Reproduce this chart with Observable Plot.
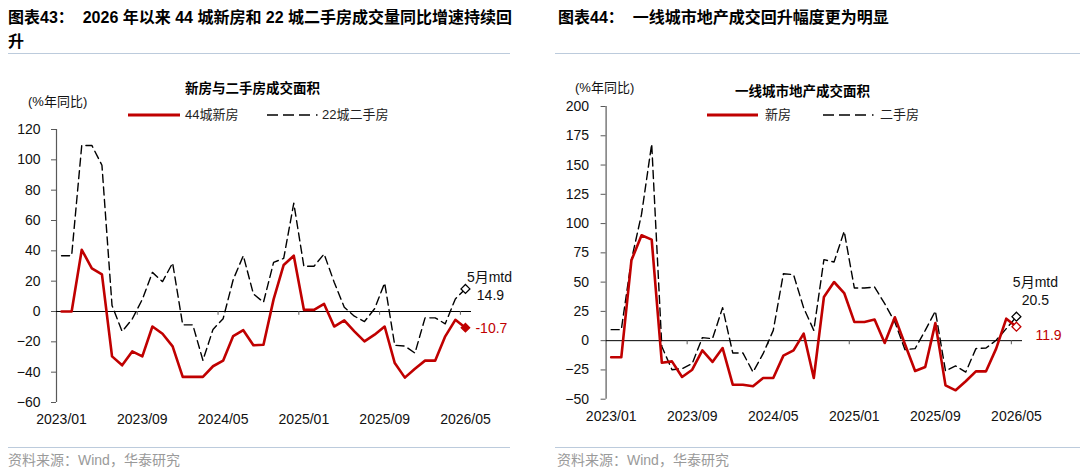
<!DOCTYPE html>
<html>
<head>
<meta charset="utf-8">
<script src="https://cdn.jsdelivr.net/npm/d3@7"></script>
<script src="https://cdn.jsdelivr.net/npm/@observablehq/plot@0.6"></script>
<style>
  body { margin: 0; background: #fff; }
  #page { position: relative; width: 1080px; height: 472px; overflow: hidden;
          font-family: "Liberation Sans", "Noto Sans CJK SC", sans-serif; color: #000; }
  .abs { position: absolute; white-space: nowrap; }
  .title { font-weight: 700; font-size: 16px; line-height: 24px; }
  .rule { position: absolute; height: 0; border-top: 1.5px solid #bccbdc; }
  .sub { font-weight: 700; font-size: 13.5px; line-height: 18px; }
  .unit { font-size: 13px; line-height: 16px; color: #111; }
  .leg { font-size: 13px; line-height: 16px; color: #222; }
  .source { font-size: 14px; line-height: 18px; color: #9a9a9a; }
  svg.sw { position: absolute; overflow: visible; }
  .chart { position: absolute; }
</style>
</head>
<body>
<div id="page">
  <!-- left panel header -->
  <div class="abs title" style="left:8px;top:6px;">图表43：&nbsp; 2026 年以来 44 城新房和 22 城二手房成交量同比增速持续回<br>升</div>
  <div class="rule" style="left:8px;top:53px;width:502px;"></div>
  <div class="rule" style="left:8px;top:447px;width:502px;"></div>
  <div class="abs source" style="left:8px;top:451px;">资料来源：Wind，华泰研究</div>

  <!-- right panel header -->
  <div class="abs title" style="left:558px;top:6px;">图表44：&nbsp; 一线城市地产成交回升幅度更为明显</div>
  <div class="rule" style="left:555px;top:53px;width:525px;"></div>
  <div class="rule" style="left:555px;top:447px;width:525px;"></div>
  <div class="abs source" style="left:557px;top:451px;">资料来源：Wind，华泰研究</div>

  <div id="left" class="chart" style="left:0;top:100px;"></div>
  <div id="right" class="chart" style="left:540px;top:90px;"></div>

  <!-- chart captions and legends -->
  <div class="abs sub" style="left:185px;top:80px;">新房与二手房成交面积</div>
  <div class="abs unit" style="left:28px;top:94px;">(%年同比)</div>
  <svg class="sw" style="left:128px;top:110px;" width="52" height="10"><line x1="0" y1="5" x2="52" y2="5" stroke="#C00000" stroke-width="3"/></svg>
  <div class="abs leg" style="left:185px;top:107px;">44城新房</div>
  <svg class="sw" style="left:267px;top:110px;" width="52" height="10"><line x1="0" y1="5" x2="51" y2="5" stroke="#000" stroke-width="1.5" stroke-dasharray="11,5,11,5,11,6,1.5,20"/></svg>
  <div class="abs leg" style="left:322px;top:107px;">22城二手房</div>

  <div class="abs sub" style="left:735px;top:83px;">一线城市地产成交面积</div>
  <div class="abs unit" style="left:575px;top:80px;">(%年同比)</div>
  <svg class="sw" style="left:707px;top:110px;" width="52" height="10"><line x1="0" y1="5" x2="51" y2="5" stroke="#C00000" stroke-width="3"/></svg>
  <div class="abs leg" style="left:765px;top:107px;">新房</div>
  <svg class="sw" style="left:823px;top:110px;" width="52" height="10"><line x1="0" y1="5" x2="51" y2="5" stroke="#000" stroke-width="1.5" stroke-dasharray="11,5,11,5,11,6,1.5,20"/></svg>
  <div class="abs leg" style="left:880px;top:107px;">二手房</div>
</div>

<script>
// Monthly categories, 2023/01 – 2026/05 (last month is month-to-date)
const months = d3.utcMonth
  .range(new Date(Date.UTC(2023, 0, 1)), new Date(Date.UTC(2026, 5, 1)))
  .map(d3.utcFormat("%Y/%m"));
const tickLabels = ["2023/01", "2023/09", "2024/05", "2025/01", "2025/09", "2026/05"];

// 44城新房 成交面积 同比 (%)
const new44 = [0, 0, 40.7, 28.5, 24.5, -29.6, -35.5, -26.3, -29.6, -9.9, -14.7, -23, -43.1, -43.1, -43.1,
  -36.1, -32.4, -16.2, -12.3, -22.3, -21.9, 8, 30.7, 36.8, 1.1, 1.1, 5, -9.9, -5.9, -13.1, -19.7, -15.3,
  -9.9, -34, -43.6, -37.7, -32.4, -32.4, -16.4, -5.5, -10.7];
// 22城二手房 成交面积 同比 (%)
const used22 = [36.8, 36.8, 109.5, 109.5, 96.4, 3.9, -13.1, -5, 8, 25.8, 19.7, 32, -8.8, -8.8, -32.2,
  -11.8, -4.8, 21, 36.8, 11.6, 6.1, 32.4, 35, 71.4, 29.8, 29.8, 37.9, 19.3, 2.8, -3.1, -6.6, 1.8,
  18.8, -22.3, -22.8, -27.4, -4.2, -4.2, -8.1, 8.3, 14.9];

// 一线城市 新房 成交面积 同比 (%)
const tier1New = [-14.2, -14.2, 68.6, 90, 86.3, -18.8, -17.7, -31, -24.8, -8.3, -18.2, -6.3, -37.6, -37.6,
  -39, -31.9, -31.9, -12.8, -8.3, 6, -31.9, 37.3, 50.1, 40.7, 16, 16, 18, -2, 20, -3, -25.9, -22.5,
  15, -38.2, -42.4, -34.7, -26.2, -26.2, -6.8, 18.8, 11.9];
// 一线城市 二手房 成交面积 同比 (%)
const tier1Used = [9.4, 9.4, 69, 108, 168, -5, -24.8, -23.9, -19.6, 2.6, 1.7, 28.2, -10.5, -10.5, -26.8,
  -11.1, 8.8, 57.2, 56.4, 28, 8.8, 69.2, 67.2, 93.4, 45, 45, 45.8, 31.6, 15.9, -7.7, -6.8, 8.8,
  25.3, -25.9, -21.6, -26.8, -6.8, -6.3, 0.3, 10.3, 20.5];

const leftTicks = [-60, -40, -20, 0, 20, 40, 60, 80, 100, 120];
const rightTicks = [-50, -25, 0, 25, 50, 75, 100, 125, 150, 175, 200];

const RED = "#C00000";
const AXIS = "#595959";
const FONT = "Liberation Sans, Noto Sans CJK SC, sans-serif";

const labelPos = tickLabels.map(l => months.indexOf(l));
const betweenTicks = labelPos.slice(1).map(i => i - 0.5);

function drawChart(o) {
  const last = months.length - 1;
  const newRows = o.newVals.map((v, i) => ({i, v}));
  const usedRows = o.usedVals.map((v, i) => ({i, v}));
  const newEnd = [newRows[last]];
  const usedEnd = [usedRows[last]];
  return Plot.plot({
    width: 540,
    height: o.height,
    marginLeft: o.ml,
    marginRight: o.mr,
    marginTop: o.mt,
    marginBottom: o.mb,
    style: {background: "transparent", fontFamily: FONT, fontSize: "14px", color: "#111"},
    x: {domain: [-0.5, 40.6]},
    y: {domain: o.yDomain},
    marks: [
      Plot.axisY({ticks: o.yTicks, tickSize: 5, tickPadding: o.ypad, label: null,
        stroke: AXIS, fill: "#111", fontSize: 14}),
      Plot.ruleX([-0.5], {y1: o.yDomain[0], y2: o.yDomain[1], stroke: AXIS, strokeWidth: 1.2}),
      Plot.axisX({ticks: labelPos, tickFormat: i => months[i], tickSize: 0, tickPadding: o.xpad,
        label: null, fill: "#111", fontSize: 14}),
      Plot.ruleY([0], {stroke: "#000", strokeWidth: 1}),
      Plot.ruleX(betweenTicks, {y1: 0, y2: o.tickDrop, stroke: AXIS}),
      Plot.line(usedRows, {x: "i", y: "v", stroke: "#000", strokeWidth: 1.4, strokeDasharray: "8,4.5"}),
      Plot.line(newRows, {x: "i", y: "v", stroke: RED, strokeWidth: 2.6}),
      Plot.dot(usedEnd, {x: "i", y: "v", symbol: "diamond2", r: 4, stroke: "#000", fill: "#fff", strokeWidth: 1.3}),
      Plot.dot(newEnd, {x: "i", y: "v", symbol: "diamond2", r: o.newFilled ? 3.8 : 4,
        stroke: RED, fill: o.newFilled ? RED : "#fff", strokeWidth: 1.3}),
      Plot.text(usedEnd, {x: "i", y: "v", text: () => "5月mtd", dx: o.mtdDx, dy: o.mtdDy,
        fontSize: 14, fill: "#111"}),
      Plot.text(usedEnd, {x: "i", y: "v", text: d => d.v.toFixed(1), dx: o.usedDx, dy: o.usedDy,
        fontSize: 14, fill: "#111"}),
      Plot.text(newEnd, {x: "i", y: "v", text: d => d.v.toFixed(1), dx: o.newDx, dy: o.newDy,
        textAnchor: "start", fontSize: 14, fill: RED})
    ]
  });
}

document.getElementById("left").append(drawChart({
  newVals: new44, usedVals: used22,
  yDomain: [-60, 120], yTicks: leftTicks, height: 340,
  ml: 56, mr: 69, mt: 29, mb: 38, ypad: 11, xpad: 12, tickDrop: -2.5,
  newFilled: true,
  mtdDx: 24, mtdDy: -11, usedDx: 25, usedDy: 7, newDx: 10, newDy: 1
}));

document.getElementById("right").append(drawChart({
  newVals: tier1New, usedVals: tier1Used,
  yDomain: [-50, 200], yTicks: rightTicks, height: 350,
  ml: 65.6, mr: 58, mt: 16, mb: 41.3, ypad: 12, xpad: 12, tickDrop: -3.5,
  newFilled: false,
  mtdDx: 19, mtdDy: -34, usedDx: 19, usedDy: -16, newDx: 19, newDy: 9
}));
</script>
</body>
</html>
